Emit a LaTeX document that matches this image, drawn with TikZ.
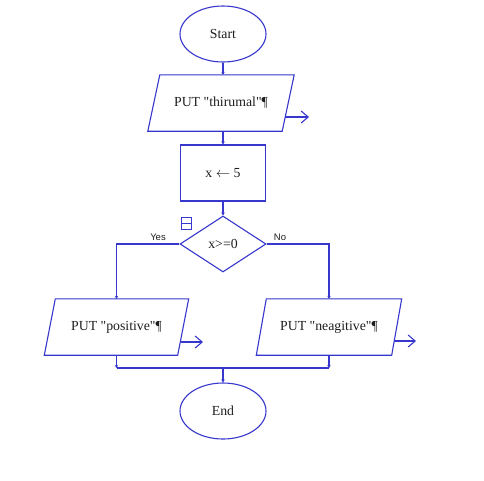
\documentclass[tikz,border=0pt]{standalone}
\usepackage{fontspec}
\setmainfont{Liberation Serif}
\newfontfamily\lsans{Liberation Sans}
\usetikzlibrary{shapes.geometric,arrows.meta,calc}
\definecolor{fb}{RGB}{55,55,205}
\definecolor{tx}{RGB}{30,30,30}
\newcommand{\dq}{\textquotedbl}
\begin{document}
\begin{tikzpicture}[x=1pt,y=-1pt,
  txt/.style={font=\fontsize{13.8}{16}\selectfont, text=tx},
  box/.style={txt, draw=fb, line width=1.1pt, fill=white, inner sep=0pt},
  term/.style={box, ellipse, minimum width=86pt, minimum height=56pt},
  proc/.style={box, rectangle, minimum width=85pt, minimum height=56pt},
  dec/.style={box, diamond, minimum width=86pt, minimum height=56pt},
  io/.style={txt, inner sep=0pt, minimum height=56pt},
  line/.style={draw=fb, line width=1.1pt},
  flow/.style={line, -{Stealth[length=3pt,width=3.5pt]}},
  outarrow/.style={line, -{Straight Barb[length=7pt,width=12pt]}},
  lab/.style={font=\lsans\fontsize{9.5}{11}\selectfont, text=tx}]

\fill[white] (0,0) rectangle (484,480);
\useasboundingbox (0,0) rectangle (484,480);

% Start
\node[term] (start) at (223,34) {Start};

% PUT "thirumal"
\node[io, minimum width=134pt] (p1) at (221,103) {PUT \dq thirumal\dq¶};
\draw[line] ($(p1.north west)+(6,0)$) -- ($(p1.north east)+(6,0)$) -- ($(p1.south east)+(-6,0)$) -- ($(p1.south west)+(-6,0)$) -- cycle;
\coordinate (o1) at (285,117);
\coordinate (o1e) at (309,117);
\draw[outarrow] (o1) -- (o1e);

% assignment
\node[proc] (assign) at (223,173) {x \(\leftarrow\) 5};

% decision
\node[dec] (cond) at (223,244) {x>=0};
\draw[fb, line width=1pt] (181,217) rectangle (191,229);
\draw[fb, line width=1pt] (181,223) -- (191,223);

% branches
\node[io, minimum width=133pt] (p2) at (116.5,327) {PUT \dq positive\dq¶};
\draw[line] ($(p2.north west)+(5.5,0)$) -- ($(p2.north east)+(5.5,0)$) -- ($(p2.south east)+(-5.5,0)$) -- ($(p2.south west)+(-5.5,0)$) -- cycle;
\coordinate (o2) at (181,342);
\coordinate (o2e) at (203,342);
\draw[outarrow] (o2) -- (o2e);

\node[io, minimum width=135pt] (p3) at (329,327) {PUT \dq neagitive\dq¶};
\draw[line] ($(p3.north west)+(5,0)$) -- ($(p3.north east)+(5,0)$) -- ($(p3.south east)+(-5,0)$) -- ($(p3.south west)+(-5,0)$) -- cycle;
\coordinate (o3) at (394,341);
\coordinate (o3e) at (416,341);
\draw[outarrow] (o3) -- (o3e);

% End
\node[term] (end) at (223,411) {End};

% connectors
\draw[flow] (start.south) -- (start.south |- p1.north);
\draw[flow] (assign.north |- p1.south) -- (assign.north);
\draw[flow] (assign.south) -- (cond.north);
\draw[flow] (cond.west) -| (p2.north);
\draw[flow] (cond.east) -| (p3.north);
\node[lab] (yes) at (158,237) {Yes};
\node[lab] (no) at (280,237) {No};

\coordinate (mL) at (116.5,368);
\coordinate (mR) at (329,368);
\coordinate (mC) at (223,368);
\draw[flow] (p2.south) -- (mL);
\draw[flow] (p3.south) -- (mR);
\draw[line] (mL) -- (mR);
\draw[flow] (mC) -- (end.north);
\end{tikzpicture}
\end{document}
